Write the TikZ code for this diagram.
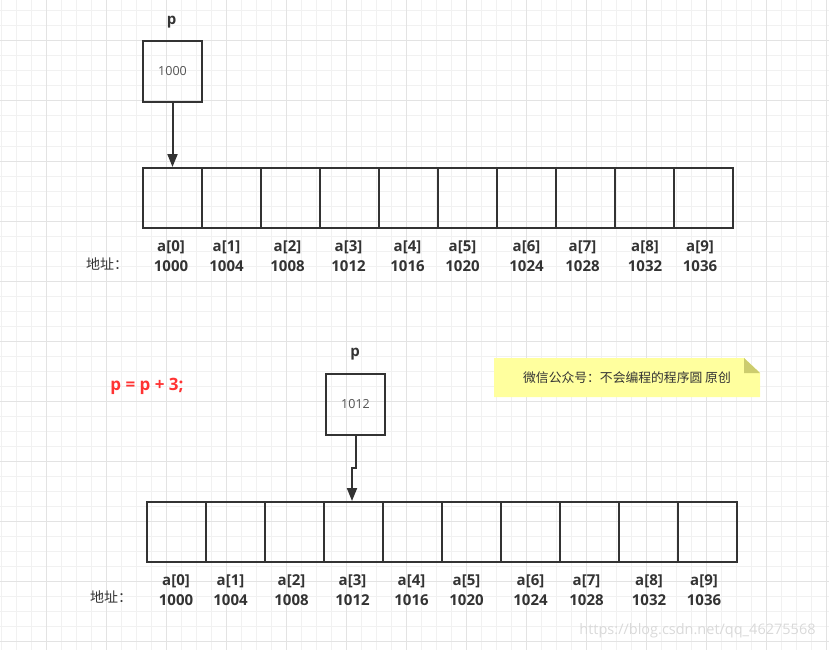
\documentclass[tikz,border=0pt]{standalone}
\usepackage{fontspec}
\setmainfont{Open Sans}
\newfontfamily\cjk{Noto Sans CJK SC}
\usetikzlibrary{arrows.meta,positioning}
\definecolor{gridminor}{HTML}{F1F1F1}
\definecolor{gridmajor}{HTML}{E3E3E3}
\definecolor{ink}{HTML}{333333}
\definecolor{codered}{HTML}{FF3333}
\definecolor{notefill}{HTML}{FFFF9E}
\definecolor{notefold}{HTML}{CCCC6E}
\begin{document}
\begin{tikzpicture}[x=1pt,y=-1pt,
    cell/.style={draw=ink, line width=2pt, minimum width=59pt, minimum height=60pt, inner sep=0pt, anchor=north west},
    ptr/.style={draw=ink, line width=2pt, minimum width=59pt, minimum height=61pt, inner sep=0pt, anchor=north west, font=\fontsize{12.5}{14}\selectfont, text=ink!85},
    lbl/.style={font=\bfseries\fontsize{15}{20.5}\selectfont, text=ink, align=center},
    arr/.style={draw=ink, line width=2pt, -{Triangle[length=13pt,width=10pt]}}
]
\useasboundingbox (0,0) rectangle (829,650);
% 背景网格
\foreach \x in {1,16,...,826} \draw[gridminor, line width=1pt] (\x,0) -- (\x,650);
\foreach \y in {11,26,...,641} \draw[gridminor, line width=1pt] (0,\y) -- (829,\y);
\foreach \x in {46,106,...,826} \draw[gridmajor, line width=1pt] (\x,0) -- (\x,650);
\foreach \y in {41,101,...,641} \draw[gridmajor, line width=1pt] (0,\y) -- (829,\y);

% 初始状态
\begin{scope}
\node[lbl] (ptrlblA) at (171.5,22) {p};
\node[ptr] (ptrA) at (142,40) {1000};
\foreach \i/\dx in {0/-0.5,1/-4,2/-2,3/0,4/0,5/-4,6/1,7/-2,8/1.5,9/-2.5} {
    \pgfmathtruncatemacro\addr{1000+4*\i}
    \node[cell] (cellA\i) at (142+59*\i,167) {};
    \node[lbl] (addrA\i) at ({171.5+59*\i+\dx},256) {a[\i]\\\addr};
}
\node[font=\cjk\fontsize{14}{16}\selectfont, text=ink] (addrtitleA) at (107,264) {地址：};
\draw[arr] (ptrA.south) -- (cellA0.north);
\end{scope}

% p = p + 3 之后
\begin{scope}
\node[font=\bfseries\fontsize{17}{18}\selectfont, text=codered] (step) at (147,386) {p = p + 3;};
\node[lbl] (ptrlblB) at (355,354) {p};
\node[ptr] (ptrB) at (325,373) {1012};
\foreach \i/\dx in {0/0.5,1/-4,2/-2,3/0,4/0,5/-4,6/1,7/-2,8/1.5,9/-2.5} {
    \pgfmathtruncatemacro\addr{1000+4*\i}
    \node[cell] (cellB\i) at (146+59*\i,501) {};
    \node[lbl] (addrB\i) at ({175.5+59*\i+\dx},590) {a[\i]\\\addr};
}
\node[font=\cjk\fontsize{14}{16}\selectfont, text=ink] (addrtitleB) at (111,597) {地址：};
\coordinate (jog) at (352,468);
\draw[arr] (ptrB.south) |- (jog) -- (jog |- cellB3.north);
\end{scope}

% 便签
\fill[notefill] (494,358) -- (744,358) -- (760,373) -- (760,397) -- (494,397) -- cycle;
\fill[notefold] (744,358) -- (760,373) -- (744,373) -- cycle;
\node[font=\cjk\fontsize{12.8}{14}\selectfont, text=ink] (note) at (627,378) {微信公众号：不会编程的程序圆 原创};

% 水印
\node[font=\fontsize{14.5}{16}\selectfont, text=gray!30] (mark) at (697.5,631) {https://blog.csdn.net/qq\_46275568};
\end{tikzpicture}
\end{document}
